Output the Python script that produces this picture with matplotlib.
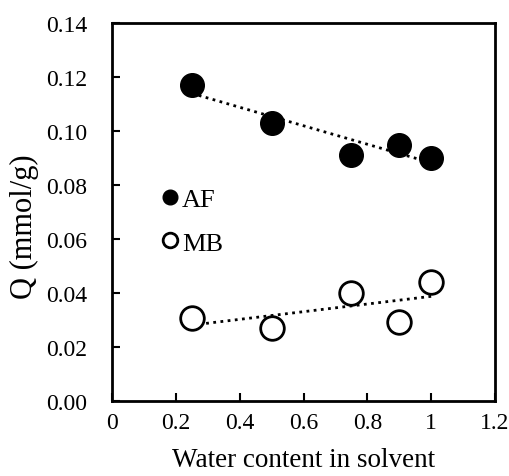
import numpy as np
import matplotlib.pyplot as plt

plt.rcParams['font.family'] = ['Liberation Serif', 'DejaVu Serif']

# Données
water = [0.25, 0.5, 0.75, 0.9, 1.0]
q_af = [0.117, 0.103, 0.091, 0.095, 0.090]
q_mb = [0.0307, 0.0270, 0.0400, 0.0293, 0.0441]
xticks = [0, 0.2, 0.4, 0.6, 0.8, 1.0, 1.2]
xticklabels = ['0', '0.2', '0.4', '0.6', '0.8', '1', '1.2']
yticks = [0.00, 0.02, 0.04, 0.06, 0.08, 0.10, 0.12, 0.14]

fig = plt.figure(figsize=(5.1, 4.77), dpi=100)
ax = fig.add_axes([0.2196, 0.1572, 0.751, 0.7925])

x = np.array(water)
for q in (q_af, q_mb):
    p = np.polyfit(x, q, 1)
    ax.plot([x.min(), x.max()], np.polyval(p, [x.min(), x.max()]),
            color='black', linestyle=(0, (1, 1.6)), linewidth=2, zorder=1)

ax.plot(water, q_af, 'o', color='black', markersize=17, label='AF', zorder=3)
ax.plot(water, q_mb, 'o', markerfacecolor='white', markeredgecolor='black',
        markeredgewidth=2, markersize=17, label='MB', zorder=3)

ax.set_xlim(0, 1.2)
ax.set_ylim(0, 0.14)
ax.set_xticks(xticks)
ax.set_xticklabels(xticklabels)
ax.set_yticks(yticks)
ax.set_yticklabels(['%.2f' % v for v in yticks])
ax.tick_params(direction='in', length=6, width=1.5, labelsize=17,
               colors='black')
ax.tick_params(axis='x', pad=8)
ax.tick_params(axis='y', pad=18)
for s in ax.spines.values():
    s.set_linewidth(2)

ax.set_xlabel('Water content in solvent', fontsize=19.5, labelpad=10)
ax.set_ylabel('Q (mmol/g)', fontsize=22)
ax.yaxis.set_label_coords(-0.19, 0.463)

ax.legend(loc='upper left', bbox_to_anchor=(0.103, 0.592), frameon=False,
          markerscale=0.62, handlelength=0.6, handletextpad=0.15,
          labelspacing=0.75, fontsize=19, borderaxespad=0)

fig.savefig('out.png', dpi=100)
